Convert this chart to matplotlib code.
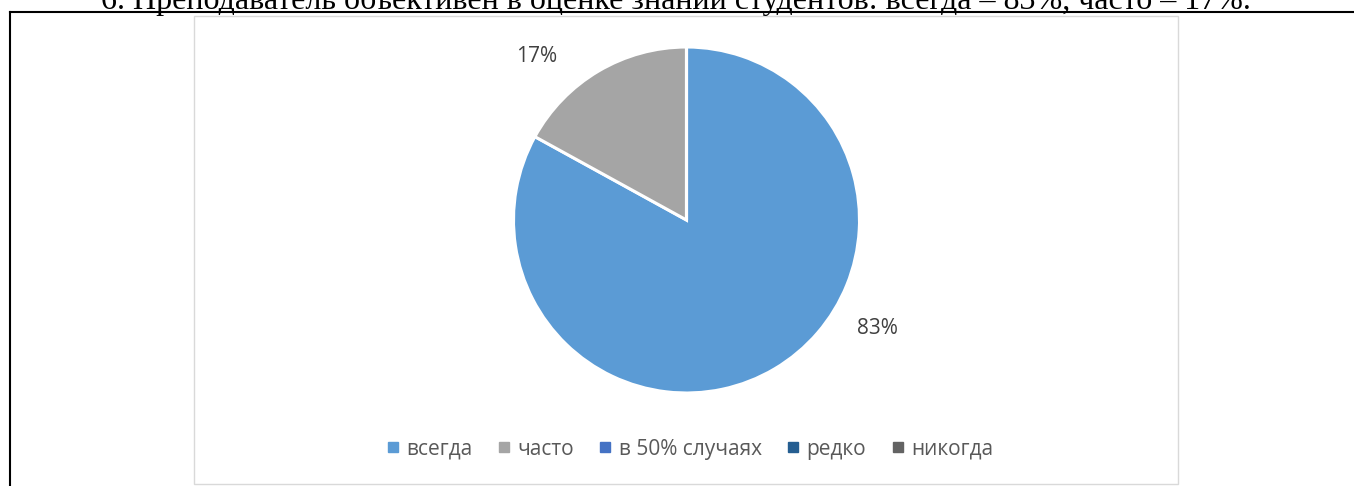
import matplotlib.pyplot as plt
from matplotlib.lines import Line2D
from matplotlib.patches import Rectangle

# chart data
title = "6. Преподаватель объективен в оценке знаний студентов: всегда – 83%, часто – 17%."
categories = ["всегда", "часто", "в 50% случаях", "редко", "никогда"]
values = [83, 17, 0, 0, 0]
colors = ["#5B9BD5", "#A5A5A5", "#4472C4", "#255E91", "#636363"]

W, H = 1354, 486
fig = plt.figure(figsize=(W / 100, H / 100), dpi=100)

# title line of the document, cut at the top
fig.text(676 / W, 1 - 9 / H, title, ha="center", va="baseline",
         fontsize=23, family="Liberation Serif", color="black")

# black table frame
fig.add_artist(Line2D([10 / W, 1.0], [1 - 12.5 / H, 1 - 12.5 / H],
                      color="black", lw=1.5, transform=fig.transFigure))
fig.add_artist(Line2D([10 / W, 10 / W], [0, 1 - 12.5 / H],
                      color="black", lw=1.5, transform=fig.transFigure))

# chart area border
fig.add_artist(Rectangle((194 / W, 1 - 484 / H), (1178 - 194) / W, (484 - 16) / H,
                         fill=False, edgecolor="#D9D9D9", lw=1,
                         transform=fig.transFigure))

# pie
cx, cy, r = 686.5, 220, 173
ax = fig.add_axes([(cx - r) / W, 1 - (cy + r) / H, 2 * r / W, 2 * r / H])
wedges, _ = ax.pie(values, colors=colors, startangle=90, counterclock=False,
                   radius=1, wedgeprops=dict(edgecolor="white", linewidth=2.2))
ax.set_xlim(-1, 1)
ax.set_ylim(-1, 1)
ax.set_aspect("equal")
ax.axis("off")

label_pos = [(1.105, -0.63), (-0.865, 0.945)]
for (lx, ly), v in zip(label_pos, values[:2]):
    ax.text(lx, ly, f"{v}%", ha="center", va="center", fontsize=15,
            family="Open Sans", color="#404040", clip_on=False)

handles = [Line2D([], [], marker="s", linestyle="", color=c, markersize=6.5)
           for c in colors]
fig.legend(handles, categories, ncol=5, loc="center", bbox_to_anchor=(690 / W, 1 - 449 / H),
           frameon=False, handlelength=0.6, handletextpad=0.35, columnspacing=1.2,
           prop={"family": "Open Sans", "size": 15}, labelcolor="#595959")

fig.savefig("out.png", dpi=100)
